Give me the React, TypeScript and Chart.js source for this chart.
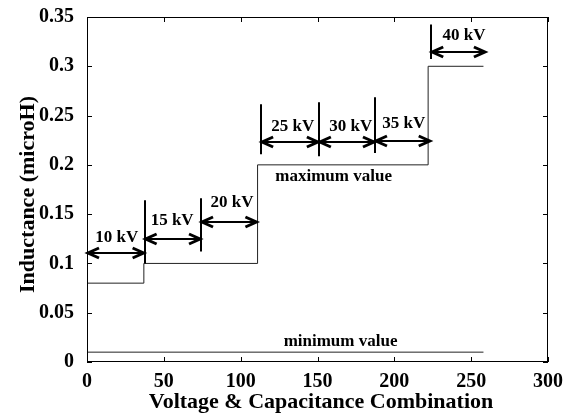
import React, { useEffect, useRef } from "react";
import { Chart, registerables } from "chart.js";

Chart.register(...registerables);

// Stepped "maximum value" curve (x = combination index, y = inductance in microH)
const maxX = [0, 37, 111, 222, 258];
const maxY = [0.08, 0.1, 0.2, 0.3, 0.3];

// Flat "minimum value" curve
const minX = [0, 258];
const minY = [0.01, 0.01];

// Voltage groups: double arrow span and its height
const voltageLabels = ["10 kV", "15 kV", "20 kV", "25 kV", "30 kV", "35 kV", "40 kV"];
const arrowStart = [0, 37.5, 74.2, 113.3, 150.9, 187.4, 224];
const arrowEnd = [37.5, 74.2, 110.9, 150.9, 187.4, 223.7, 259.6];
const arrowLevel = [0.111, 0.125, 0.1425, 0.223, 0.223, 0.2246, 0.314];
const labelX = [19.4, 55.4, 94.4, 133.9, 171.6, 206.1, 245.3];
const labelY = [0.126, 0.143, 0.162, 0.239, 0.239, 0.2414, 0.3315];

// Vertical separators between voltage groups
const dividerX = [37.5, 74.2, 113.3, 150.9, 187.4, 224];
const dividerLow = [0.1, 0.112, 0.2108, 0.2088, 0.2121, 0.3075];
const dividerHigh = [0.164, 0.166, 0.2616, 0.2636, 0.2686, 0.3424];

// Curve captions
const curveNames = ["maximum value", "minimum value"];
const curveNameX = [160.5, 165];
const curveNameY = [0.188, 0.0205];

const xTicks = [0, 50, 100, 150, 200, 250, 300];
const yTicks = [0, 0.05, 0.1, 0.15, 0.2, 0.25, 0.3, 0.35];

const xTitle = "Voltage & Capacitance Combination";
const yTitle = "Inductance (microH)";

const SERIF = "'Liberation Serif', 'Times New Roman', serif";

const frameAndNotes = {
  id: "frameAndNotes",
  afterDraw(chart: any) {
    const { ctx, chartArea: a } = chart;
    const xs = chart.scales.x;
    const ys = chart.scales.y;
    const px = (v: number) => xs.getPixelForValue(v);
    const py = (v: number) => ys.getPixelForValue(v);
    ctx.save();

    // box and inward ticks
    ctx.strokeStyle = "#000";
    ctx.lineWidth = 1;
    ctx.strokeRect(a.left + 0.5, a.top + 0.5, a.right - a.left - 1, a.bottom - a.top - 1);
    const tl = 5;
    ctx.beginPath();
    xTicks.forEach((t) => {
      const x = Math.round(px(t)) + 0.5;
      ctx.moveTo(x, a.bottom);
      ctx.lineTo(x, a.bottom - tl);
      ctx.moveTo(x, a.top);
      ctx.lineTo(x, a.top + tl);
    });
    yTicks.forEach((t) => {
      const y = Math.round(py(t)) + 0.5;
      ctx.moveTo(a.left, y);
      ctx.lineTo(a.left + tl, y);
      ctx.moveTo(a.right, y);
      ctx.lineTo(a.right - tl, y);
    });
    ctx.stroke();

    // group separators
    ctx.lineWidth = 2;
    ctx.beginPath();
    dividerX.forEach((d, i) => {
      const x = Math.round(px(d));
      ctx.moveTo(x, py(dividerLow[i]));
      ctx.lineTo(x, py(dividerHigh[i]));
    });
    ctx.stroke();

    // double arrows
    const head = (x: number, y: number, dir: number) => {
      ctx.beginPath();
      ctx.moveTo(x + dir * 11, y - 5);
      ctx.lineTo(x, y);
      ctx.lineTo(x + dir * 11, y + 5);
      ctx.stroke();
    };
    ctx.lineJoin = "miter";
    voltageLabels.forEach((_, i) => {
      const x1 = px(arrowStart[i]) + 1;
      const x2 = px(arrowEnd[i]) - 1;
      const y = Math.round(py(arrowLevel[i]));
      ctx.lineWidth = 2;
      ctx.beginPath();
      ctx.moveTo(x1, y);
      ctx.lineTo(x2, y);
      ctx.stroke();
      ctx.lineWidth = 3;
      head(x1, y, 1);
      head(x2, y, -1);
    });

    // labels
    ctx.fillStyle = "#000";
    ctx.textAlign = "center";
    ctx.textBaseline = "middle";
    ctx.font = `bold 17px ${SERIF}`;
    voltageLabels.forEach((s, i) => {
      ctx.fillText(s, px(labelX[i]), py(labelY[i]));
    });
    ctx.font = `bold 17px ${SERIF}`;
    curveNames.forEach((s, i) => {
      ctx.fillText(s, px(curveNameX[i]), py(curveNameY[i]));
    });

    // axis titles
    ctx.font = `bold 22px ${SERIF}`;
    ctx.textBaseline = "alphabetic";
    ctx.fillText(xTitle, 321, 408);
    ctx.save();
    ctx.translate(34, (a.top + a.bottom) / 2 + 5);
    ctx.rotate(-Math.PI / 2);
    ctx.fillText(yTitle, 0, 0);
    ctx.restore();

    ctx.restore();
  },
};

export default function App() {
  const ref = useRef<HTMLCanvasElement>(null);

  useEffect(() => {
    if (!ref.current) return;
    const chart = new Chart(ref.current, {
      type: "line",
      data: {
        datasets: [
          {
            label: "maximum value",
            data: maxX.map((x, i) => ({ x, y: maxY[i] })),
            stepped: "before",
            borderColor: "#222",
            borderWidth: 1,
            pointRadius: 0,
            fill: false,
          },
          {
            label: "minimum value",
            data: minX.map((x, i) => ({ x, y: minY[i] })),
            borderColor: "#222",
            borderWidth: 1,
            pointRadius: 0,
            fill: false,
          },
        ],
      },
      options: {
        responsive: false,
        animation: false,
        layout: { padding: { top: 15, right: 25, left: 0, bottom: 0 } },
        plugins: {
          legend: { display: false },
          tooltip: { enabled: false },
        },
        scales: {
          x: {
            type: "linear",
            min: 0,
            max: 300,
            grid: { display: false },
            border: { display: false },
            afterBuildTicks: (s: any) => {
              s.ticks = xTicks.map((v) => ({ value: v }));
            },
            afterFit: (s: any) => {
              s.height = 53;
            },
            ticks: {
              padding: 0,
              color: "#000",
              font: { family: SERIF, size: 20, weight: "bold" },
              maxRotation: 0,
              callback: (v: any) => String(v),
            },
          },
          y: {
            type: "linear",
            min: 0,
            max: 0.35,
            grid: { display: false },
            border: { display: false },
            afterBuildTicks: (s: any) => {
              s.ticks = yTicks.map((v) => ({ value: v }));
            },
            afterFit: (s: any) => {
              s.width = 87;
            },
            ticks: {
              padding: 5,
              color: "#000",
              font: { family: SERIF, size: 20, weight: "bold" },
              callback: (v: any) => String(Number(Number(v).toFixed(2))),
            },
          },
        },
      },
      plugins: [frameAndNotes],
    });
    return () => chart.destroy();
  }, []);

  return (
    <div style={{ position: "fixed", left: 0, top: 0, width: 573, height: 415, background: "#fff" }}>
      <canvas ref={ref} width={573} height={415} />
    </div>
  );
}
